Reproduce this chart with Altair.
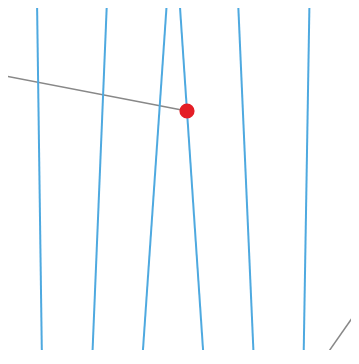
import altair as alt
import pandas as pd

# Blue near-vertical lines: x position at the top (y=0) and at the bottom (y=364)
blue_top_x = [37, 107, 167, 179.5, 238, 309.5]
blue_bottom_x = [42, 92, 142, 204, 254, 303.5]
blue_y = [0, 364]

# Gray connector lines (start, end)
gray_a_x = [0, 187]
gray_a_y = [75, 111]
gray_b_x = [320, 380]
gray_b_y = [364, 278]

# Red point
point_x = [187]
point_y = [111]

rows = []
for i, (t, b) in enumerate(zip(blue_top_x, blue_bottom_x)):
    rows.append({"id": f"b{i}", "o": 0, "x": t, "y": blue_y[0]})
    rows.append({"id": f"b{i}", "o": 1, "x": b, "y": blue_y[1]})
blue_df = pd.DataFrame(rows)

grows = []
for k, (xs_, ys_) in enumerate([(gray_a_x, gray_a_y), (gray_b_x, gray_b_y)]):
    for o, (xv, yv) in enumerate(zip(xs_, ys_)):
        grows.append({"id": f"g{k}", "o": o, "x": xv, "y": yv})
gray_df = pd.DataFrame(grows)

pt_df = pd.DataFrame({"x": point_x, "y": point_y})

W, H = 343, 342
xs = alt.Scale(domain=[8, 8 + W], nice=False, zero=False)
ys = alt.Scale(domain=[8 + H, 8], nice=False, zero=False)

blue = alt.Chart(blue_df).mark_line(color="#4EA9E0", strokeWidth=2, clip=True).encode(
    x=alt.X("x:Q", scale=xs, axis=None),
    y=alt.Y("y:Q", scale=ys, axis=None),
    detail="id:N",
    order="o:Q",
)

gray = alt.Chart(gray_df).mark_line(color="#888888", strokeWidth=1.5, clip=True).encode(
    x=alt.X("x:Q", scale=xs, axis=None),
    y=alt.Y("y:Q", scale=ys, axis=None),
    detail="id:N",
    order="o:Q",
)

pt = alt.Chart(pt_df).mark_circle(color="#E41E26", opacity=1, size=230, clip=True).encode(
    x=alt.X("x:Q", scale=xs, axis=None),
    y=alt.Y("y:Q", scale=ys, axis=None),
)

chart = alt.layer(gray, blue, pt).properties(
    width=W, height=H, padding=0, autosize="none"
).configure_view(stroke=None)

chart.save("out.html", embed_options={"renderer": "svg", "actions": False})
